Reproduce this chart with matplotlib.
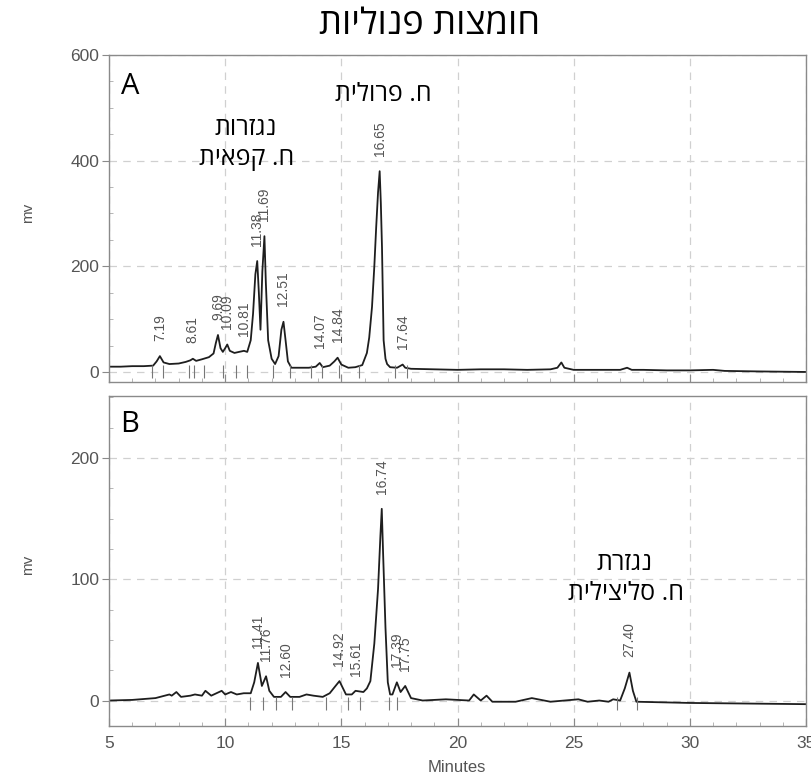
import matplotlib
matplotlib.use("Agg")
import matplotlib.pyplot as plt
import numpy as np
from matplotlib.ticker import MultipleLocator

# ---- data ----
# panel A trace: retention time (min), signal (mV)
a_time = [5.0, 5.5, 6.0, 6.5, 6.9, 7.05, 7.19, 7.35, 7.6, 8.0, 8.3, 8.5, 8.61, 8.75,
          9.0, 9.3, 9.5, 9.6, 9.69, 9.8, 9.9, 10.0, 10.09, 10.2, 10.4, 10.6, 10.81,
          10.95, 11.1, 11.2, 11.3, 11.38, 11.45, 11.52, 11.6, 11.69, 11.75, 11.85,
          12.0, 12.15, 12.3, 12.42, 12.51, 12.6, 12.7, 12.85, 13.2, 13.6, 13.9,
          14.07, 14.2, 14.5, 14.7, 14.84, 15.0, 15.3, 15.6, 15.9, 16.1, 16.2, 16.32,
          16.42, 16.5, 16.58, 16.65, 16.7, 16.75, 16.82, 16.9, 16.97, 17.1, 17.4,
          17.64, 17.75, 18.0, 19.0, 20.0, 21.0, 22.0, 23.0, 24.0, 24.3, 24.47, 24.6,
          25.0, 26.0, 27.0, 27.3, 27.5, 28.0, 29.0, 30.0, 31.0, 31.5, 33.0, 35.0]
a_mv = [10, 10, 11, 11, 12, 20, 30, 18, 15, 16, 19, 22, 25, 21,
        24, 28, 35, 55, 70, 45, 38, 45, 52, 40, 36, 38, 40,
        38, 60, 110, 185, 210, 150, 80, 190, 257, 170, 60,
        25, 15, 30, 80, 95, 60, 20, 8, 8, 8, 10,
        17, 9, 12, 20, 27, 14, 8, 9, 13, 36, 65, 123,
        200, 274, 340, 380, 320, 236, 60, 25, 15, 9, 8,
        14, 8, 6, 5, 4, 5, 5, 4, 5, 8, 18, 8,
        4, 4, 4, 8, 4, 4, 3, 3, 4, 2, 1, 0]

# panel B trace
b_time = [5.0, 6.0, 7.0, 7.6, 7.7, 7.9, 8.1, 8.5, 8.7, 9.0, 9.15, 9.4, 9.85, 10.0,
          10.25, 10.5, 10.8, 11.1, 11.25, 11.41, 11.58, 11.76, 11.9, 12.1, 12.4,
          12.6, 12.8, 13.2, 13.5, 13.8, 14.2, 14.5, 14.75, 14.92, 15.2, 15.45, 15.61,
          15.95, 16.1, 16.25, 16.42, 16.58, 16.68, 16.74, 16.8, 16.9, 17.0, 17.1,
          17.2, 17.39, 17.55, 17.75, 18.0, 18.5, 19.5, 20.5, 20.7, 21.0, 21.25,
          21.5, 22.5, 23.2, 24.0, 25.2, 25.6, 26.1, 26.5, 26.7, 27.0, 27.2, 27.4,
          27.55, 27.7, 30.0, 35.0]
b_mv = [0, 0.5, 2, 5, 4, 7, 3, 4, 5, 4, 8, 4, 8, 5,
        7, 5, 6, 6, 15, 31, 12, 20, 8, 3, 3,
        7, 3, 3, 5, 4, 3, 6, 12, 16, 5, 5, 8,
        7, 10, 16, 47, 92, 135, 158, 120, 60, 15, 5,
        5, 15, 7, 12, 2, 0, 1, 0, 5, 0, 4,
        -1, -1, 2, -1, 1, -1, 0, -1, 1, 0, 10, 23,
        8, -1, -2, -3]

# labelled peaks (retention time shown on chart)
a_peaks = [7.19, 8.61, 9.69, 10.09, 10.81, 11.38, 11.69, 12.51, 14.07, 14.84, 16.65, 17.64]
b_peaks = [11.41, 11.76, 12.60, 14.92, 15.61, 16.74, 17.39, 17.75, 27.40]

# integration event marks
a_marks = [6.86, 7.33, 8.45, 8.67, 9.09, 9.89, 10.45, 10.92, 12.04, 12.78, 13.71,
           14.18, 14.92, 15.75, 17.29, 17.82]
b_marks = [11.09, 11.64, 12.18, 12.87, 14.33, 15.29, 15.79, 17.05, 17.4, 26.88, 27.72]

HEB = ["Open Sans", "DejaVu Sans"]
NUM = ["Liberation Sans", "DejaVu Sans"]


def rtl(s):
    # matplotlib has no bidi support: reverse Hebrew for visual order
    return s[::-1]


def style_axes(ax, ymin, ymax, ymajor, yminor):
    ax.set_xlim(5, 35)
    ax.set_ylim(ymin, ymax)
    ax.xaxis.set_major_locator(MultipleLocator(5))
    ax.xaxis.set_minor_locator(MultipleLocator(1))
    ax.yaxis.set_major_locator(MultipleLocator(ymajor))
    ax.yaxis.set_minor_locator(MultipleLocator(yminor))
    for sp in ax.spines.values():
        sp.set_color("#8a8a8a")
        sp.set_linewidth(1.0)
    ax.tick_params(axis="x", which="major", direction="in", length=6, color="#8a8a8a",
                   labelsize=12.5, labelcolor="#555555", pad=7)
    ax.tick_params(axis="x", which="minor", direction="in", length=3, color="#aaaaaa")
    ax.tick_params(axis="y", which="major", direction="out", length=5, color="#8a8a8a",
                   labelsize=12.5, labelcolor="#555555", pad=2)
    ax.tick_params(axis="y", which="minor", direction="in", length=3, color="#aaaaaa")
    for lab in ax.get_xticklabels() + ax.get_yticklabels():
        lab.set_family(NUM)
    ax.grid(True, which="major", linestyle=(0, (6, 5)), color="#d0d0d0", linewidth=0.9)
    ax.set_axisbelow(True)


def draw_trace(ax, t, v, peaks, marks, mlo, mhi):
    ax.plot(t, v, color="#1e1e1e", linewidth=1.3)
    ax.vlines(marks, mlo, mhi, color="#777777", linewidth=0.8)
    for p in peaks:
        h = np.interp(p, t, v)
        ax.annotate(f"{p:.2f}", xy=(p, h), xytext=(0, 11), textcoords="offset points",
                    rotation=90, ha="center", va="bottom", fontsize=10,
                    color="#555555", family=NUM)


fig = plt.figure(figsize=(8.12, 7.76), dpi=100)
ax_a = fig.add_axes([109 / 812, 1 - 382 / 776, 697 / 812, 327 / 776])
ax_b = fig.add_axes([109 / 812, 1 - 726 / 776, 697 / 812, 330 / 776])

draw_trace(ax_a, a_time, a_mv, a_peaks, a_marks, -12, 14)
style_axes(ax_a, -19, 600, 200, 50)
ax_a.tick_params(axis="x", labelbottom=False)

draw_trace(ax_b, b_time, b_mv, b_peaks, b_marks, -8, 3)
style_axes(ax_b, -21, 251, 100, 25)

# annotations
ax_a.text(0.030, 0.905, "A", transform=ax_a.transAxes, fontsize=21, ha="center",
          va="center", family=HEB)
ax_b.text(0.030, 0.915, "B", transform=ax_b.transAxes, fontsize=21, ha="center",
          va="center", family=HEB)
ax_a.text(16.81, 526, rtl("ח. פרולית"), fontsize=18, ha="center", va="center", family=HEB)
ax_a.text(10.88, 460, rtl("נגזרות"), fontsize=18, ha="center", va="center", family=HEB)
ax_a.text(10.92, 404, rtl("ח. קפאית"), fontsize=18, ha="center", va="center", family=HEB)
ax_b.text(27.2, 113, rtl("נגזרת"), fontsize=18, ha="center", va="center", family=HEB)
ax_b.text(27.24, 88, rtl("ח. סליצילית"), fontsize=18, ha="center", va="center", family=HEB)

fig.text(430 / 812, 1 - 25 / 776, rtl("חומצות פנוליות"), fontsize=26, ha="center",
         va="center", family=HEB)
fig.text(28 / 812, 1 - 213 / 776, "mv", rotation=90, fontsize=11, color="#555555",
         ha="center", va="center", family=NUM)
fig.text(28 / 812, 1 - 565 / 776, "mv", rotation=90, fontsize=11, color="#555555",
         ha="center", va="center", family=NUM)
fig.text(457 / 812, 1 - 768 / 776, "Minutes", fontsize=12, color="#555555",
         ha="center", va="center", family=NUM)

fig.savefig("out.png", dpi=100)
